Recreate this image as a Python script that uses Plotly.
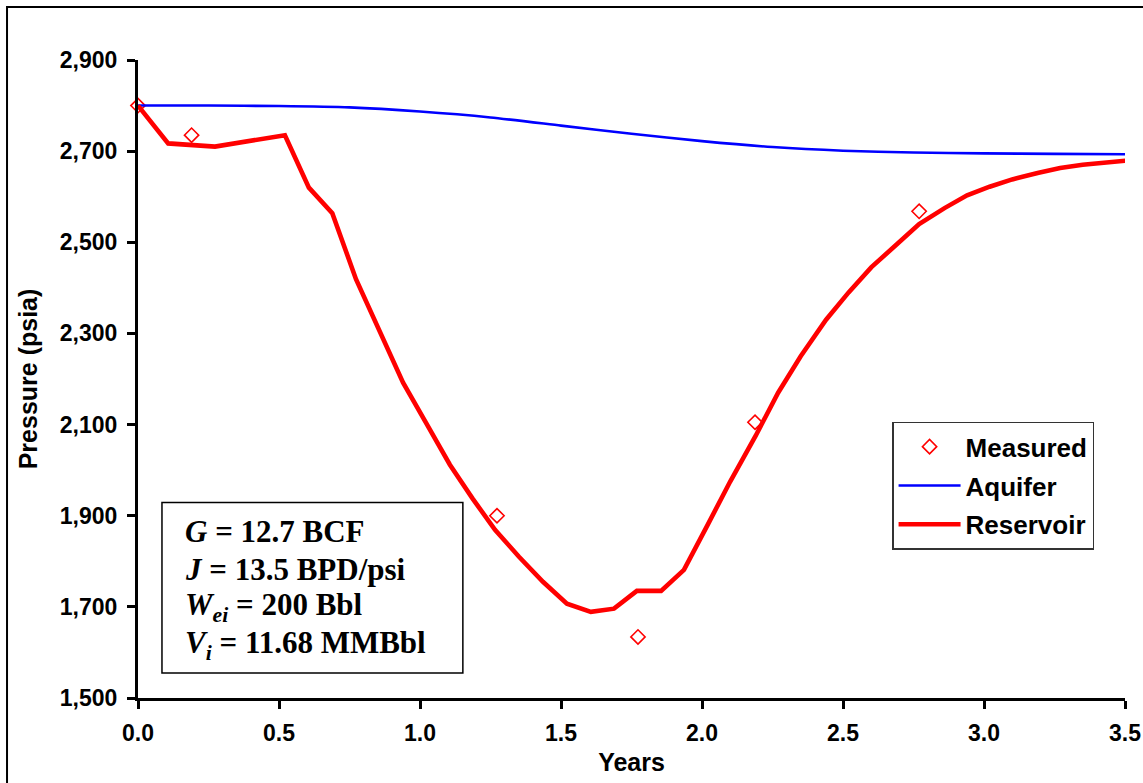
import plotly.graph_objects as go

# Measured reservoir pressures
measured_years = [0.0, 0.19, 1.273, 1.773, 2.188, 2.77]
measured_psia = [2800, 2735, 1900, 1634, 2105, 2568]

# Aquifer pressure history
aquifer_years = [0.0, 0.25, 0.5, 0.75, 1.0, 1.25, 1.5, 1.75, 2.0, 2.25, 2.5, 2.75, 3.0, 3.25, 3.52]
aquifer_psia = [2800, 2800, 2799, 2796, 2787, 2774, 2756, 2738, 2722, 2709, 2701, 2697, 2695, 2694, 2693]

# Simulated reservoir pressure history
reservoir_years = [0.0, 0.107, 0.273, 0.521, 0.606, 0.689, 0.773, 0.857, 0.94, 1.023, 1.106,
                   1.186, 1.266, 1.351, 1.436, 1.521, 1.606, 1.688, 1.769, 1.855, 1.936,
                   2.02, 2.10, 2.19, 2.27, 2.35, 2.44, 2.52, 2.60, 2.69, 2.77, 2.86, 2.94,
                   3.02, 3.10, 3.19, 3.27, 3.35, 3.44, 3.52]
reservoir_psia = [2800, 2717, 2710, 2735, 2620, 2564, 2419, 2302, 2192, 2102, 2012,
                  1938, 1869, 1810, 1755, 1707, 1689, 1696, 1735, 1735, 1781,
                  1880, 1975, 2075, 2170, 2250, 2330, 2390, 2445, 2495, 2540, 2575, 2603,
                  2622, 2638, 2652, 2663, 2670, 2676, 2680]

x_ticks = [0.0, 0.5, 1.0, 1.5, 2.0, 2.5, 3.0, 3.5]
y_ticks = [1500, 1700, 1900, 2100, 2300, 2500, 2700, 2900]

param_lines = [
    "<i>G</i> = 12.7 BCF",
    "<i>J</i> = 13.5 BPD/psi",
    "<i>W<sub>ei</sub></i> = 200 Bbl",
    "<i>V<sub>i</sub></i> = 11.68 MMBbl",
]
param_y = [1865, 1781, 1700, 1616]

SANS = "Liberation Sans, Arial, sans-serif"
SERIF = "Liberation Serif, Times New Roman, serif"

fig = go.Figure()

fig.add_trace(go.Scatter(
    x=measured_years, y=measured_psia, name="Measured", mode="markers", legendgroup="m",
    marker=dict(symbol="diamond-open", size=11, color="#ff0000",
                line=dict(width=1.6, color="#ff0000")),
    cliponaxis=False,
))
fig.add_trace(go.Scatter(
    x=aquifer_years, y=aquifer_psia, name="Aquifer", mode="lines", legendgroup="a",
    line=dict(color="#0000ff", width=2.6, shape="spline", smoothing=0.6),
))
fig.add_trace(go.Scatter(
    x=reservoir_years, y=reservoir_psia, name="Reservoir", mode="lines", legendgroup="r",
    line=dict(color="#ff0000", width=4.6),
))

# Parameter box
fig.add_shape(type="rect", xref="x", yref="y", x0=0.085, x1=1.152, y0=1555, y1=1929,
              line=dict(color="black", width=1.5), fillcolor="white", layer="below")
for txt, yy in zip(param_lines, param_y):
    fig.add_annotation(x=0.158, y=yy, xref="x", yref="y", text=txt, showarrow=False,
                       xanchor="left", yanchor="middle",
                       font=dict(family=SERIF, size=31, color="black", weight="bold"))

# Outer chart frame
fig.add_shape(type="rect", xref="paper", yref="paper", x0=-0.1327, x1=1.2, y0=-0.4, y1=1.0831,
              line=dict(color="black", width=2), fillcolor="rgba(0,0,0,0)", layer="below")

bold_tick = dict(family=SANS, size=23, color="black", weight="bold")
bold_title = dict(family=SANS, size=25, color="black", weight="bold")

fig.update_layout(
    width=1143, height=783,
    margin=dict(l=138, r=18, t=60, b=85),
    paper_bgcolor="white", plot_bgcolor="white",
    font=dict(family=SANS, color="black"),
    showlegend=True,
    legend=dict(x=0.764, y=0.433, xanchor="left", yanchor="top",
                bgcolor="white", bordercolor="#333333", borderwidth=1.5,
                font=dict(family=SANS, size=26, color="black", weight="bold"),
                traceorder="grouped", tracegroupgap=2, itemwidth=62),
    xaxis=dict(range=[0, 3.5], tickvals=x_ticks, tickformat=".1f", automargin=False,
               showgrid=False, zeroline=False, showline=True, linecolor="black", linewidth=3,
               ticks="outside", ticklen=8, tickwidth=3, tickcolor="black",
               ticklabelstandoff=4,
               tickfont=bold_tick,
               title=dict(text="Years", font=bold_title, standoff=9)),
    yaxis=dict(range=[1500, 2900], tickvals=y_ticks, tickformat=",", automargin=False,
               showgrid=False, zeroline=False, showline=True, linecolor="black", linewidth=3,
               ticks="outside", ticklen=8, tickwidth=3, tickcolor="black",
               ticklabelstandoff=5,
               tickfont=bold_tick,
               title=dict(text="Pressure (psia)", font=bold_title, standoff=16)),
)

fig.write_html("out.html")
